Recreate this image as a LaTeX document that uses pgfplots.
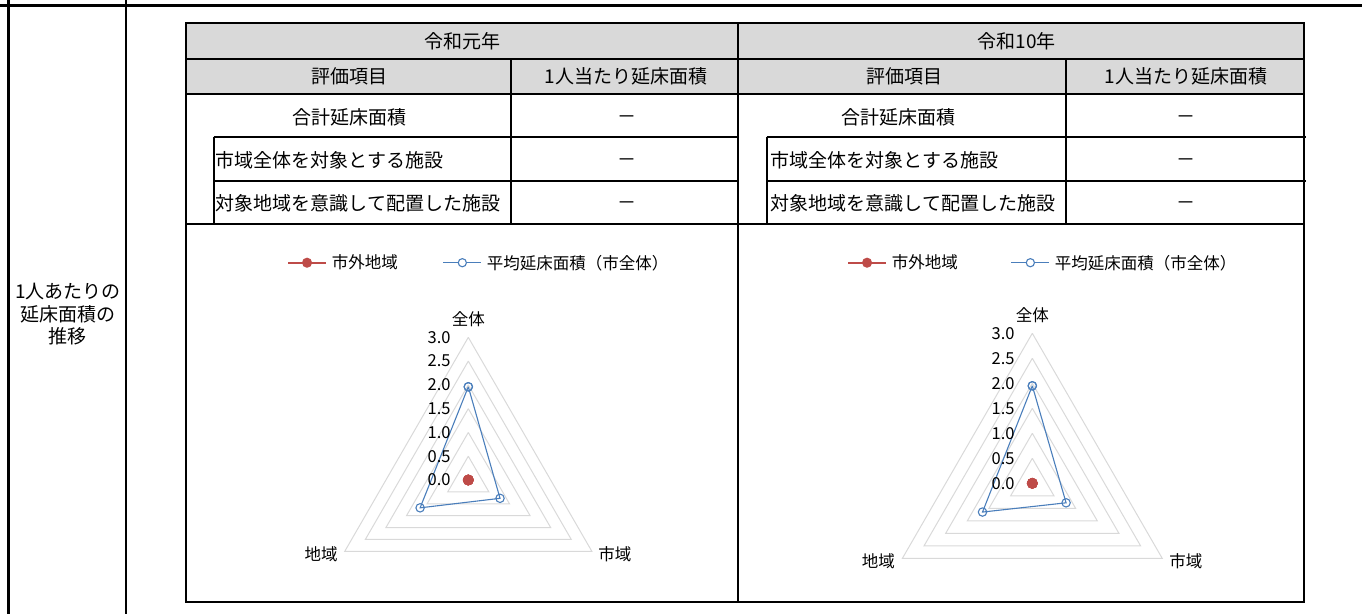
\documentclass[border=0pt]{standalone}
\usepackage{fontspec}
\setmainfont{Noto Sans CJK JP}
\usepackage{pgfplots}
\pgfplotsset{compat=1.18}
\definecolor{hdrgray}{HTML}{D9D9D9}
\definecolor{gridgray}{HTML}{D9D9D9}
\definecolor{redc}{HTML}{BE4B48}
\definecolor{bluec}{HTML}{4A7EBB}
\newcommand\tfont{\fontsize{19}{22.5}\selectfont}
\newcommand\cfont{\fontsize{16.5}{20}\selectfont}
\pgfplotsset{
  gridtri/.style={draw=gridgray, line width=1pt, no markers, data cs=polar, forget plot},
  redser/.style={color=redc, line width=1.8pt, mark=*, mark size=5.2pt, data cs=polar,
     mark options={solid, line width=0.5pt, fill=redc},
     legend image code/.code={\draw[line width=1.8pt, color=redc] (0pt,0pt) -- (37.7pt,0pt);
        \fill[redc] (18.85pt,0pt) circle[radius=4.1pt];}},
  blueser/.style={color=bluec, line width=1.1pt, mark=o, mark size=4.2pt, data cs=polar,
     mark options={solid, fill=white},
     legend image code/.code={\draw[line width=1.1pt, color=bluec] (0pt,0pt) -- (38pt,0pt);
        \draw[line width=1.1pt, color=bluec, fill=white] (19pt,0pt) circle[radius=4.1pt];}},
  radar/.style={anchor=origin, hide axis, clip=false, xmin=-4, xmax=4, ymin=-2, ymax=5,
     legend columns=2,
     legend style={draw=none, fill=none, inner sep=0pt, outer sep=0pt, anchor=west, font=\cfont,
        nodes={inner sep=0pt, anchor=west}}},
}
\begin{document}
\begin{tikzpicture}[x=1pt,y=-1pt]
\useasboundingbox (0,0) rectangle (1362,614);
% outer frame lines
\draw[line width=3.3pt] (0,5.7) -- (1362,5.7);
\draw[line width=3pt] (8.3,0) -- (8.3,614);
\draw[line width=2pt] (126.3,0) -- (126.3,614);
% header fill
\fill[hdrgray] (186,23.3) rectangle (1304,94.3);
% table lines
\begin{scope}[line width=1.8pt]
\draw (186,23.3) rectangle (1304,601.7);
\draw (186,59.3) -- (1304,59.3);
\draw (186,94.3) -- (1304,94.3);
\draw (213.7,137.3) -- (738,137.3);
\draw (766.7,137.3) -- (1306,137.3);
\draw (213.7,181) -- (738,181);
\draw (766.7,181) -- (1306,181);
\draw (186,224) -- (1304,224);
\draw (511,59.3) -- (511,224);
\draw (1066,59.3) -- (1066,224);
\draw (738,23.3) -- (738,601.7);
\draw (213.7,137.3) -- (213.7,224);
\draw (766.7,137.3) -- (766.7,224);
\end{scope}
% table text
\begin{scope}[every node/.style={font=\tfont, inner sep=0pt}]
\node at (462.5,41.7) {令和元年};
\node at (1016.7,41.7) {令和10年};
\node at (349.5,76.7) {評価項目};
\node at (904,76.7) {評価項目};
\node at (626,76.7) {1人当たり延床面積};
\node at (1186,76.7) {1人当たり延床面積};
\node at (349.5,117) {合計延床面積};
\node at (898,117) {合計延床面積};
\node[anchor=west] at (215.5,160.7) {市域全体を対象とする施設};
\node[anchor=west] at (215.5,203) {対象地域を意識して配置した施設};
\node[anchor=west] at (770.5,160.7) {市域全体を対象とする施設};
\node[anchor=west] at (770.5,203) {対象地域を意識して配置した施設};
\node at (626.7,119.5) {－};
\node at (626.7,162.5) {－};
\node at (626.7,206) {－};
\node at (1185.7,119.5) {－};
\node at (1185.7,162.5) {－};
\node at (1185.7,206) {－};
\node at (68,291.7) {1人あたりの};
\node at (67.5,314) {延床面積の};
\node at (67.5,336.7) {推移};
\end{scope}
\coordinate (cL) at (468.3,480);
\coordinate (cR) at (1032.3,483.3);
% left radar
\begin{axis}[radar, at={(cL)}, x=47.56pt, y=47.56pt,
   legend style={at={(0.02426,0.9384)}, /tikz/every odd column/.append style={column sep=5pt},
     /tikz/every even column/.append style={column sep=45pt}}]
\addplot[gridtri] coordinates {(90,0.5)(330,0.5)(210,0.5)(90,0.5)};
\addplot[gridtri] coordinates {(90,1.0)(330,1.0)(210,1.0)(90,1.0)};
\addplot[gridtri] coordinates {(90,1.5)(330,1.5)(210,1.5)(90,1.5)};
\addplot[gridtri] coordinates {(90,2.0)(330,2.0)(210,2.0)(90,2.0)};
\addplot[gridtri] coordinates {(90,2.5)(330,2.5)(210,2.5)(90,2.5)};
\addplot[gridtri] coordinates {(90,3.0)(330,3.0)(210,3.0)(90,3.0)};
\addplot[redser] coordinates {(90,0)(330,0)(210,0)(90,0)};
\addlegendentry{市外地域}
\addplot[blueser] coordinates {(90,1.96)(330,0.77)(210,1.17)(90,1.96)};
\addlegendentry{平均延床面積（市全体）}
\begin{scope}[every node/.style={font=\cfont, inner sep=0pt}]
\node[anchor=east, xshift=-17.6pt] at (axis cs:0,0) {0.0};
\node[anchor=east, xshift=-17.6pt] at (axis cs:0,0.5) {0.5};
\node[anchor=east, xshift=-17.6pt] at (axis cs:0,1) {1.0};
\node[anchor=east, xshift=-17.6pt] at (axis cs:0,1.5) {1.5};
\node[anchor=east, xshift=-17.6pt] at (axis cs:0,2) {2.0};
\node[anchor=east, xshift=-17.6pt] at (axis cs:0,2.5) {2.5};
\node[anchor=east, xshift=-17.6pt] at (axis cs:0,3) {3.0};
\node[yshift=18.5pt] at (axis cs:0,3) {全体};
\node[xshift=-23.5pt, yshift=-2.5pt] at (axis cs:-2.598,-1.5) {地域};
\node[xshift=23pt, yshift=-2.5pt] at (axis cs:2.598,-1.5) {市域};
\end{scope}
\end{axis}
% right radar
\begin{axis}[radar, at={(cR)}, x=50pt, y=50pt,
   legend style={at={(0.0375,0.916)}, /tikz/every odd column/.append style={column sep=5pt},
     /tikz/every even column/.append style={column sep=53pt}}]
\addplot[gridtri] coordinates {(90,0.5)(330,0.5)(210,0.5)(90,0.5)};
\addplot[gridtri] coordinates {(90,1.0)(330,1.0)(210,1.0)(90,1.0)};
\addplot[gridtri] coordinates {(90,1.5)(330,1.5)(210,1.5)(90,1.5)};
\addplot[gridtri] coordinates {(90,2.0)(330,2.0)(210,2.0)(90,2.0)};
\addplot[gridtri] coordinates {(90,2.5)(330,2.5)(210,2.5)(90,2.5)};
\addplot[gridtri] coordinates {(90,3.0)(330,3.0)(210,3.0)(90,3.0)};
\addplot[redser] coordinates {(90,0)(330,0)(210,0)(90,0)};
\addlegendentry{市外地域}
\addplot[blueser] coordinates {(90,1.95)(330,0.78)(210,1.15)(90,1.95)};
\addlegendentry{平均延床面積（市全体）}
\begin{scope}[every node/.style={font=\cfont, inner sep=0pt}]
\node[anchor=east, xshift=-17.6pt] at (axis cs:0,0) {0.0};
\node[anchor=east, xshift=-17.6pt] at (axis cs:0,0.5) {0.5};
\node[anchor=east, xshift=-17.6pt] at (axis cs:0,1) {1.0};
\node[anchor=east, xshift=-17.6pt] at (axis cs:0,1.5) {1.5};
\node[anchor=east, xshift=-17.6pt] at (axis cs:0,2) {2.0};
\node[anchor=east, xshift=-17.6pt] at (axis cs:0,2.5) {2.5};
\node[anchor=east, xshift=-17.6pt] at (axis cs:0,3) {3.0};
\node[yshift=18.5pt] at (axis cs:0,3) {全体};
\node[xshift=-24pt, yshift=-3.4pt] at (axis cs:-2.598,-1.5) {地域};
\node[xshift=23.7pt, yshift=-3.4pt] at (axis cs:2.598,-1.5) {市域};
\end{scope}
\end{axis}
\end{tikzpicture}
\end{document}
